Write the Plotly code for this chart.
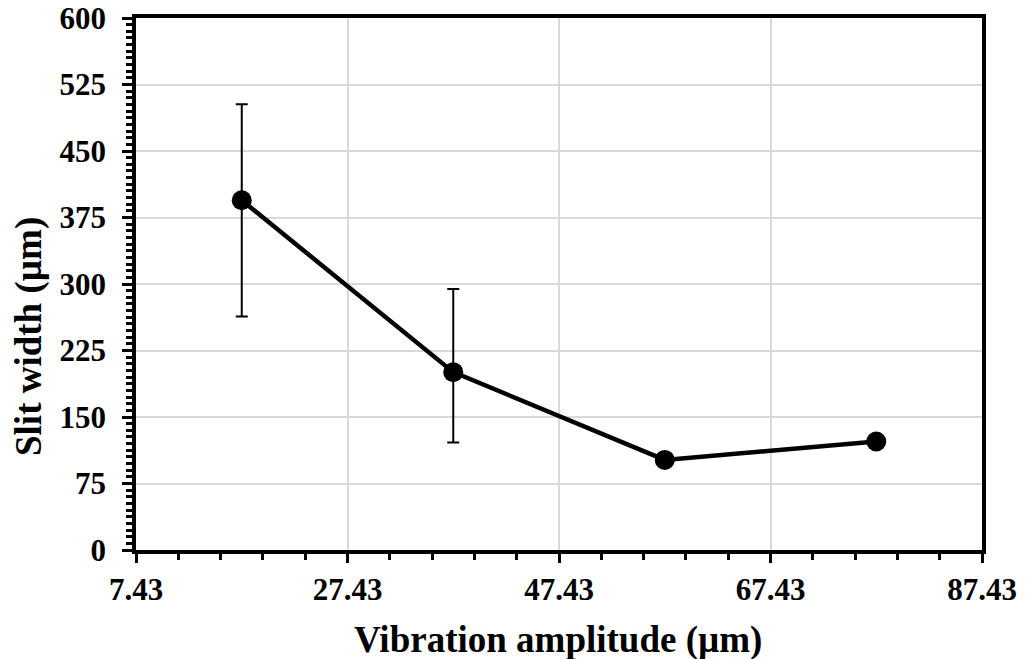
import plotly.graph_objects as go

amplitude = [17.43, 37.43, 57.43, 77.43]
slit_width = [394.5, 200.6, 101.6, 122.4]
err_plus = [108.3, 93.8, 0, 0]
err_minus = [131.1, 79.5, 0, 0]

x_ticks = [7.43, 27.43, 47.43, 67.43, 87.43]
y_ticks = [0, 75, 150, 225, 300, 375, 450, 525, 600]

font_family = "Liberation Serif"

L, R, T, B = 136, 43, 18, 109
W, H = 1025, 659
pw, ph = W - L - R, H - T - B

fig = go.Figure()
fig.add_trace(go.Scatter(
    x=amplitude, y=slit_width,
    mode="lines+markers",
    line=dict(color="black", width=4.5),
    marker=dict(color="black", size=20),
    error_y=dict(type="data", symmetric=False, array=err_plus, arrayminus=err_minus,
                 color="black", thickness=2, width=6),
    showlegend=False,
    cliponaxis=False,
))

axis_common = dict(
    showline=True, linecolor="black", linewidth=3.5, mirror=True,
    showgrid=True, gridcolor="#d9d9d9", gridwidth=1.5,
    ticks="outside", tickcolor="black", tickwidth=3,
    zeroline=False, automargin=False,
    tickfont=dict(family=font_family, size=31, color="black", weight="bold"),
)

fig.update_layout(
    width=W, height=H,
    margin=dict(l=L, r=R, t=T, b=B),
    paper_bgcolor="white", plot_bgcolor="white",
    xaxis=dict(
        range=[7.43, 87.43],
        tickvals=x_ticks, ticktext=[f"{v:.2f}" for v in x_ticks],
        ticklen=9, ticklabelstandoff=0,
        minor=dict(ticks="outside", tick0=7.43, dtick=4, ticklen=6, tickwidth=3,
                   tickcolor="black", showgrid=False),
        **axis_common,
    ),
    yaxis=dict(
        range=[0, 600],
        tickvals=y_ticks, ticktext=[str(v) for v in y_ticks],
        ticklen=10, ticklabelstandoff=10,
        minor=dict(ticks="outside", tick0=0, dtick=7.5, ticklen=6, tickwidth=3,
                   tickcolor="black", showgrid=False),
        **axis_common,
    ),
    annotations=[
        dict(text="Vibration amplitude (µm)", xref="paper", yref="paper",
             x=(558 - L) / pw, y=(H - B - 640) / ph, showarrow=False,
             xanchor="center", yanchor="middle",
             font=dict(family=font_family, size=37, color="black", weight="bold")),
        dict(text="Slit width (µm)", xref="paper", yref="paper",
             x=(29 - L) / pw, y=(H - B - 337) / ph, showarrow=False,
             textangle=-90, xanchor="center", yanchor="middle",
             font=dict(family=font_family, size=37, color="black", weight="bold")),
    ],
)

fig.write_html("out.html")
